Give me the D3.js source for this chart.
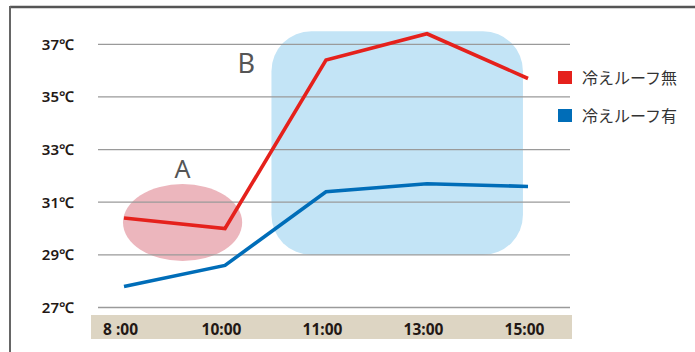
<!DOCTYPE html>
<html>
<head>
<meta charset="utf-8">
<script src="https://cdn.jsdelivr.net/npm/d3@7/dist/d3.min.js"></script>
<style>
  html, body { margin: 0; padding: 0; background: #fff; }
  svg { display: block; }
</style>
</head>
<body>
<svg id="chart" width="695" height="352"></svg>
<script>
// Time of day and temperature readings (°C)
const times = ["8:00", "10:00", "11:00", "13:00", "15:00"];
const timeLabels = ["8 :00", "10:00", "11:00", "13:00", "15:00"];
const tempNoCool = [30.4, 30.0, 36.4, 37.4, 35.7];   // 冷えルーフ無
const tempCool   = [27.8, 28.6, 31.4, 31.7, 31.6];   // 冷えルーフ有
const yTicks = [27, 29, 31, 33, 35, 37];
const seriesNames = ["冷えルーフ無", "冷えルーフ有"];
const seriesColors = ["#e5211c", "#006db8"];

// Highlighted zones, in data units (x as fractional time index, y as °C)
const zoneA = { cx: 0.58, cy: 30.23, rx: 0.59, ry: 1.46, label: "A", lx: 0.58, ly: 31.92 };
const zoneB = { x0: 1.46, x1: 3.95, y0: 29.0, y1: 37.5, label: "B", lx: 1.21, ly: 35.92 };

const svg = d3.select("#chart");
const font = "'Noto Sans', 'Noto Sans CJK JP', sans-serif";

const x = d3.scalePoint().domain(d3.range(times.length)).range([124, 528]);
const step = x(1) - x(0);
const xf = v => x(0) + v * step;
const y = d3.scaleLinear().domain([27, 37]).range([307.5, 44.3]);

// outer frame (top and left edges)
svg.append("line").attr("x1", 10).attr("x2", 695).attr("y1", 7).attr("y2", 7)
  .attr("stroke", "#555").attr("stroke-width", 2.5);
svg.append("line").attr("x1", 10).attr("x2", 10).attr("y1", 6).attr("y2", 352)
  .attr("stroke", "#666").attr("stroke-width", 2);

// x-axis band
svg.append("rect").attr("x", 91).attr("y", 315).attr("width", 481).attr("height", 24)
  .attr("fill", "#ddd5c3");

// zone B
svg.append("rect")
  .attr("x", xf(zoneB.x0)).attr("y", y(zoneB.y1))
  .attr("width", xf(zoneB.x1) - xf(zoneB.x0))
  .attr("height", y(zoneB.y0) - y(zoneB.y1))
  .attr("rx", 40).attr("ry", 40)
  .attr("fill", "#c3e4f6");

// zone A
svg.append("ellipse")
  .attr("cx", xf(zoneA.cx)).attr("cy", y(zoneA.cy))
  .attr("rx", zoneA.rx * step).attr("ry", y(zoneA.cy - zoneA.ry) - y(zoneA.cy))
  .attr("fill", "#ecb6bd");

// gridlines
svg.append("g").selectAll("line").data(yTicks).join("line")
  .attr("x1", 98).attr("x2", 570)
  .attr("y1", d => y(d)).attr("y2", d => y(d))
  .attr("stroke", "#9a9a9a").attr("stroke-width", 1.3);

// y-axis labels
svg.append("g").selectAll("text").data(yTicks).join("text")
  .attr("x", 74).attr("y", d => y(d)).attr("dy", "0.36em")
  .attr("text-anchor", "end")
  .attr("font-family", font).attr("font-weight", 600).attr("font-size", 15)
  .attr("fill", "#231815")
  .text(d => d + "℃");

// x-axis labels
const xAxis = d3.axisBottom(x).tickSize(0).tickFormat(i => timeLabels[i]);
const gx = svg.append("g").attr("transform", "translate(-4,321)").call(xAxis);
gx.select(".domain").remove();
gx.selectAll("text")
  .attr("font-family", font).attr("font-weight", 700).attr("font-size", 15.5)
  .attr("fill", "#231815");

// zone labels
svg.append("text").attr("x", xf(zoneA.lx)).attr("y", y(zoneA.ly))
  .attr("text-anchor", "middle").attr("font-family", font).attr("font-size", 25)
  .attr("fill", "#555").text(zoneA.label);
svg.append("text").attr("x", xf(zoneB.lx)).attr("y", y(zoneB.ly))
  .attr("text-anchor", "middle").attr("font-family", font).attr("font-size", 27)
  .attr("fill", "#555").text(zoneB.label);

// series lines
const line = d3.line().x((d, i) => x(i)).y(d => y(d));
[tempNoCool, tempCool].forEach((vals, k) => {
  svg.append("path").datum(vals)
    .attr("d", line)
    .attr("fill", "none")
    .attr("stroke", seriesColors[k])
    .attr("stroke-width", 3.6)
    .attr("stroke-linejoin", "miter");
});

// legend
const legend = svg.append("g").selectAll("g").data(seriesNames).join("g")
  .attr("transform", (d, i) => `translate(558,${71 + i * 38})`);
legend.append("rect").attr("width", 14).attr("height", 13)
  .attr("fill", (d, i) => seriesColors[i]);
legend.append("text").attr("x", 24).attr("y", 7).attr("dy", "0.36em")
  .attr("font-family", "'Noto Sans CJK JP', sans-serif").attr("font-size", 16)
  .attr("fill", "#333").text(d => d);
</script>
</body>
</html>
